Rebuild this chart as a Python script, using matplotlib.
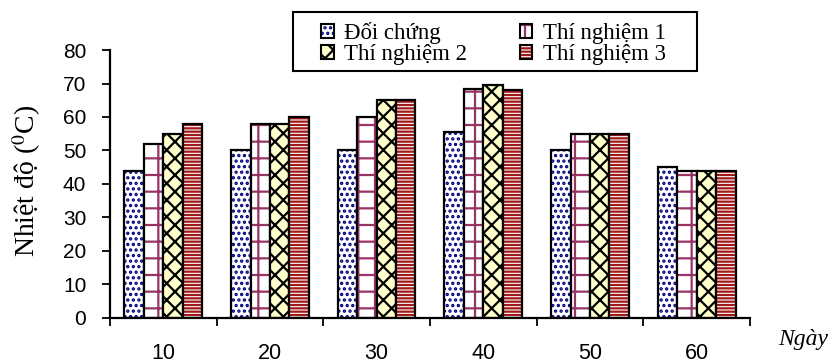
import numpy as np
import matplotlib
matplotlib.use("Agg")
import matplotlib.pyplot as plt
from matplotlib.patches import Patch, Rectangle

# data
days = ['10', '20', '30', '40', '50', '60']
doi_chung = [44, 50, 50, 55.5, 50, 45]
thi_nghiem_1 = [52, 58, 60, 68.5, 55, 44]
thi_nghiem_2 = [55, 58, 65, 69.5, 55, 44]
thi_nghiem_3 = [58, 60, 65, 68, 55, 44]

series = [
    ('Đối chứng', doi_chung, 'white', '#000080', '...'),
    ('Thí nghiệm 1', thi_nghiem_1, 'white', '#993366', '+'),
    ('Thí nghiệm 2', thi_nghiem_2, '#FFFFCC', 'black', 'xx'),
    ('Thí nghiệm 3', thi_nghiem_3, 'white', '#A01818', '-----'),
]

plt.rcParams['hatch.linewidth'] = 1.6
plt.rcParams['mathtext.fontset'] = 'stix'

fig = plt.figure(figsize=(8.39, 3.6), dpi=100)
ax = fig.add_axes([0.131, 0.117, 0.763, 0.744])

x = np.arange(len(days))
w = 0.182
handles = {}
for i, (name, vals, face, hcol, hatch) in enumerate(series):
    pos = x + (i - 1.5) * w
    ax.bar(pos, vals, w, color=face, edgecolor=hcol, hatch=hatch, linewidth=0)
    ax.bar(pos, vals, w, fill=False, edgecolor='black', linewidth=1.6)
    handles[name] = (Patch(facecolor=face, edgecolor=hcol, hatch=hatch, linewidth=0),
                     Patch(fill=False, edgecolor='black', linewidth=1.5))

ax.set_ylim(0, 80)
ax.set_xlim(-0.5, len(days) - 0.5)
ax.set_yticks(range(0, 81, 10))
ax.tick_params(axis='y', direction='out', length=6, width=1.3, labelsize=15, pad=11)
for lab in ax.get_yticklabels():
    lab.set_fontfamily('Liberation Sans')

ax.set_xticks(np.arange(-0.5, len(days), 1))
ax.set_xticklabels([])
ax.tick_params(axis='x', which='major', direction='out', length=6, width=1.3)
ax.set_xticks(x, minor=True)
ax.set_xticklabels(days, minor=True, fontsize=15.5, family='Liberation Sans')
ax.tick_params(axis='x', which='minor', length=0, pad=18)

for side in ['top', 'right']:
    ax.spines[side].set_visible(False)
for side in ['left', 'bottom']:
    ax.spines[side].set_linewidth(1.6)

ax.set_ylabel('Nhiệt độ ($^0$C)', fontsize=20, family='Liberation Serif')
ax.yaxis.set_label_coords(-0.104, 0.51)
fig.text(0.927, 0.042, 'Ngày', fontsize=17, family='Liberation Serif',
         style='italic', va='baseline')

# legend frame drawn by hand (Excel-like wide padding)
fig.patches.append(Rectangle((293 / 839, 1 - 71 / 360), 404 / 839, 59 / 360,
                             transform=fig.transFigure, fill=False,
                             edgecolor='black', linewidth=1.5))
order = ['Đối chứng', 'Thí nghiệm 2', 'Thí nghiệm 1', 'Thí nghiệm 3']
leg = fig.legend([handles[n] for n in order], order, ncol=2,
                 loc='upper left', bbox_to_anchor=(321 / 839, 1 - 22 / 360),
                 prop={'family': 'Liberation Serif', 'size': 16.5},
                 frameon=False,
                 handlelength=0.55, handleheight=0.55, handletextpad=0.45,
                 columnspacing=2.3, labelspacing=0.0, borderpad=0,
                 borderaxespad=0)

fig.savefig('out.png', dpi=100)
